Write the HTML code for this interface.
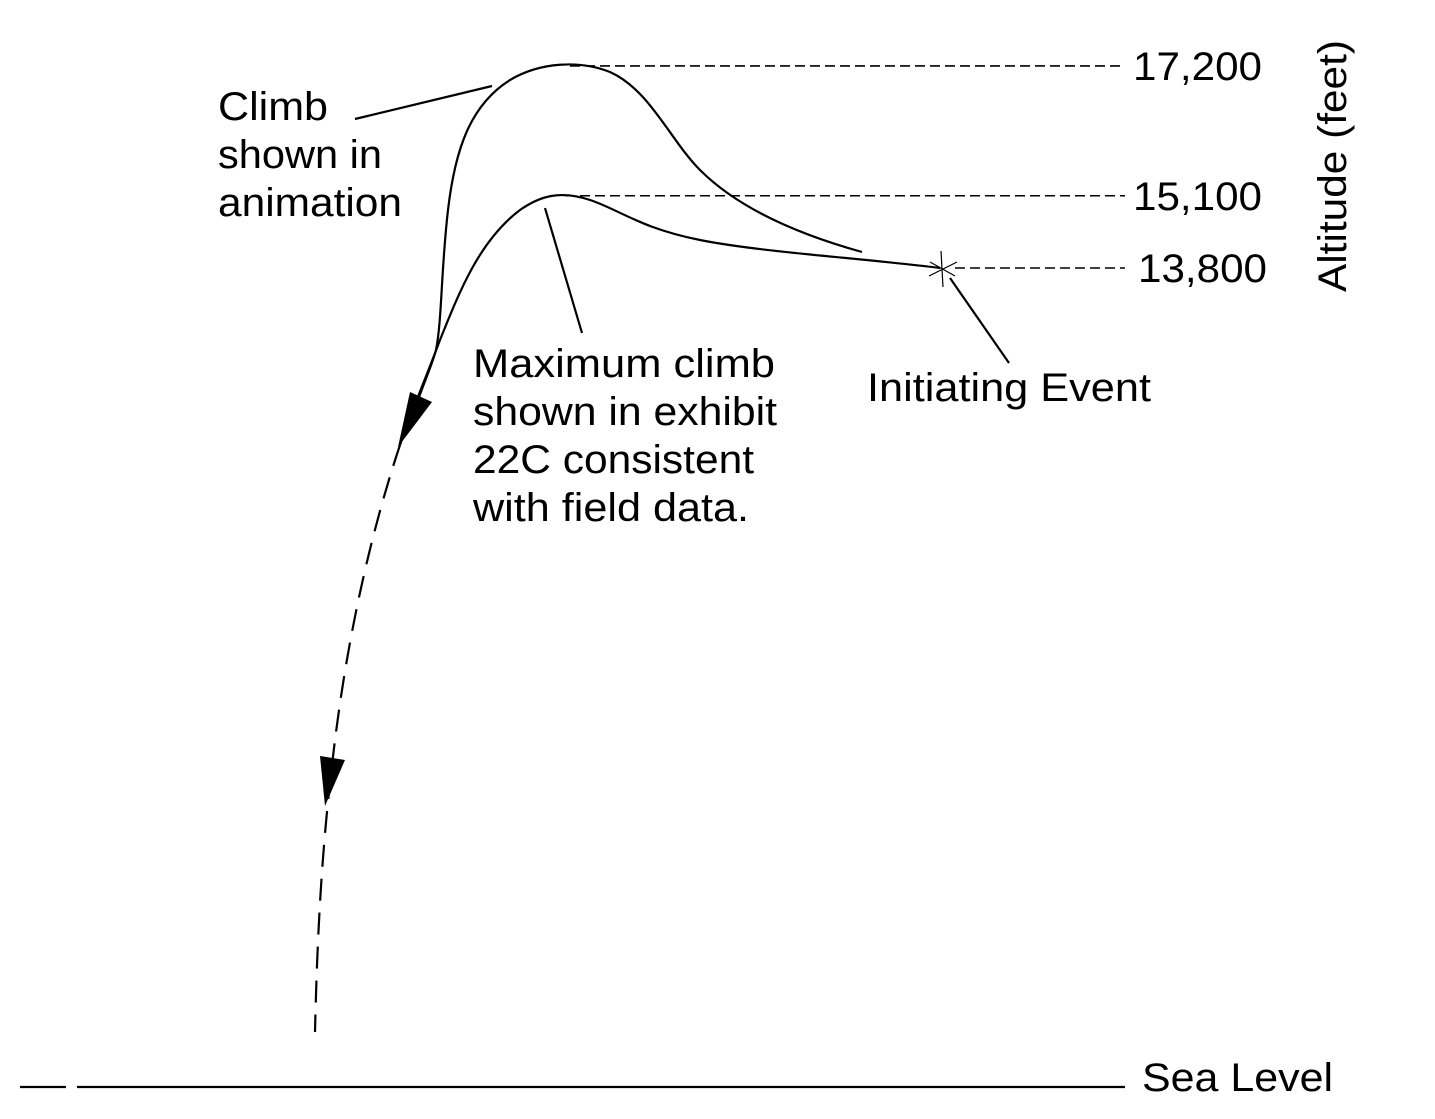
<!DOCTYPE html>
<html><head><meta charset="utf-8"><style>
html,body{margin:0;padding:0;background:#fff;}
svg{display:block;font-family:"Liberation Sans",Arial,sans-serif;}
text{font-size:40px;fill:#000;}
</style></head><body>
<svg id="chart" width="1435" height="1119" viewBox="0 0 1435 1119">
<g id="paths" fill="none" stroke="#000" stroke-width="2.2">
<path d="M862,252 C790,232 735,205 700,170 C670,140 650,90 610,72 C580,60 540,62 510,80 C470,105 455,150 448,210 C441,270 442,320 436,350 C432,365 425,380 418,400"/>
<path d="M940,268 C860,258 760,252 700,240 C640,228 620,210 590,200 C560,190 540,196 520,210 C480,240 460,290 440,340 C425,380 412,410 400,445"/>
<path stroke-dasharray="22,12" d="M400,445 C375,520 350,620 335,740 C325,820 318,900 315,1032"/>
<line x1="355" y1="119" x2="492" y2="86"/>
<line x1="545" y1="208" x2="582" y2="333"/>
<line x1="950" y1="278" x2="1009" y2="363"/>
<line x1="77" y1="1087" x2="1125" y2="1087"/>
<line x1="20" y1="1087" x2="66" y2="1087"/>
</g>
<polygon points="410,392 432,402 398,447" fill="#000"/>
<polygon points="320,756 345,760 325,806" fill="#000"/>
<g stroke="#000" stroke-width="1.2">
<line x1="930" y1="262" x2="955" y2="276"/><line x1="929" y1="276" x2="957" y2="262"/>
<line x1="941" y1="251" x2="943" y2="287"/>
</g>
<g id="refs"></g>
<text x="218" y="120" textLength="110" lengthAdjust="spacingAndGlyphs">Climb</text>
<text x="218" y="168" textLength="164" lengthAdjust="spacingAndGlyphs">shown in</text>
<text x="218" y="216" textLength="184" lengthAdjust="spacingAndGlyphs">animation</text>
<text x="473" y="377" textLength="302" lengthAdjust="spacingAndGlyphs">Maximum climb</text>
<text x="473" y="425" textLength="304" lengthAdjust="spacingAndGlyphs">shown in exhibit</text>
<text x="473" y="473" textLength="281" lengthAdjust="spacingAndGlyphs">22C consistent</text>
<text x="473" y="521" textLength="276" lengthAdjust="spacingAndGlyphs">with field data.</text>
<text x="867" y="401" textLength="284" lengthAdjust="spacingAndGlyphs">Initiating Event</text>
<text x="1142" y="1091" textLength="191" lengthAdjust="spacingAndGlyphs">Sea Level</text>
<text transform="translate(1346,166) rotate(-90)" text-anchor="middle" textLength="252" lengthAdjust="spacingAndGlyphs">Altitude (feet)</text>
</svg>
<script>
const altitudes = [17200, 15100, 13800];
const altLabels = ["17,200", "15,100", "13,800"];
const refStartX = [570, 565, 955];
function yScale(a){ return 1088 - a * 0.05942; }
const g = document.getElementById('refs');
const NS = 'http://www.w3.org/2000/svg';
altitudes.forEach((a, i) => {
  const y = yScale(a) + (i === 1 ? 5 : 0);
  const l = document.createElementNS(NS, 'line');
  
  
  l.setAttribute('x1', refStartX[i]); l.setAttribute('x2', 1125);
  l.setAttribute('y1', y); l.setAttribute('y2', y);
  l.setAttribute('stroke', '#000'); l.setAttribute('stroke-width', '1.6');
  l.setAttribute('stroke-dasharray', '10,5');
  g.appendChild(l);
  const t = document.createElementNS(NS, 'text');
  
  
  t.setAttribute('x', i === 2 ? 1138 : 1133); t.setAttribute('y', y + 14);
  t.setAttribute('textLength', '129');
  t.setAttribute('lengthAdjust', 'spacingAndGlyphs');
  t.textContent = altLabels[i];
  g.appendChild(t);
});
</script>
</body></html>
